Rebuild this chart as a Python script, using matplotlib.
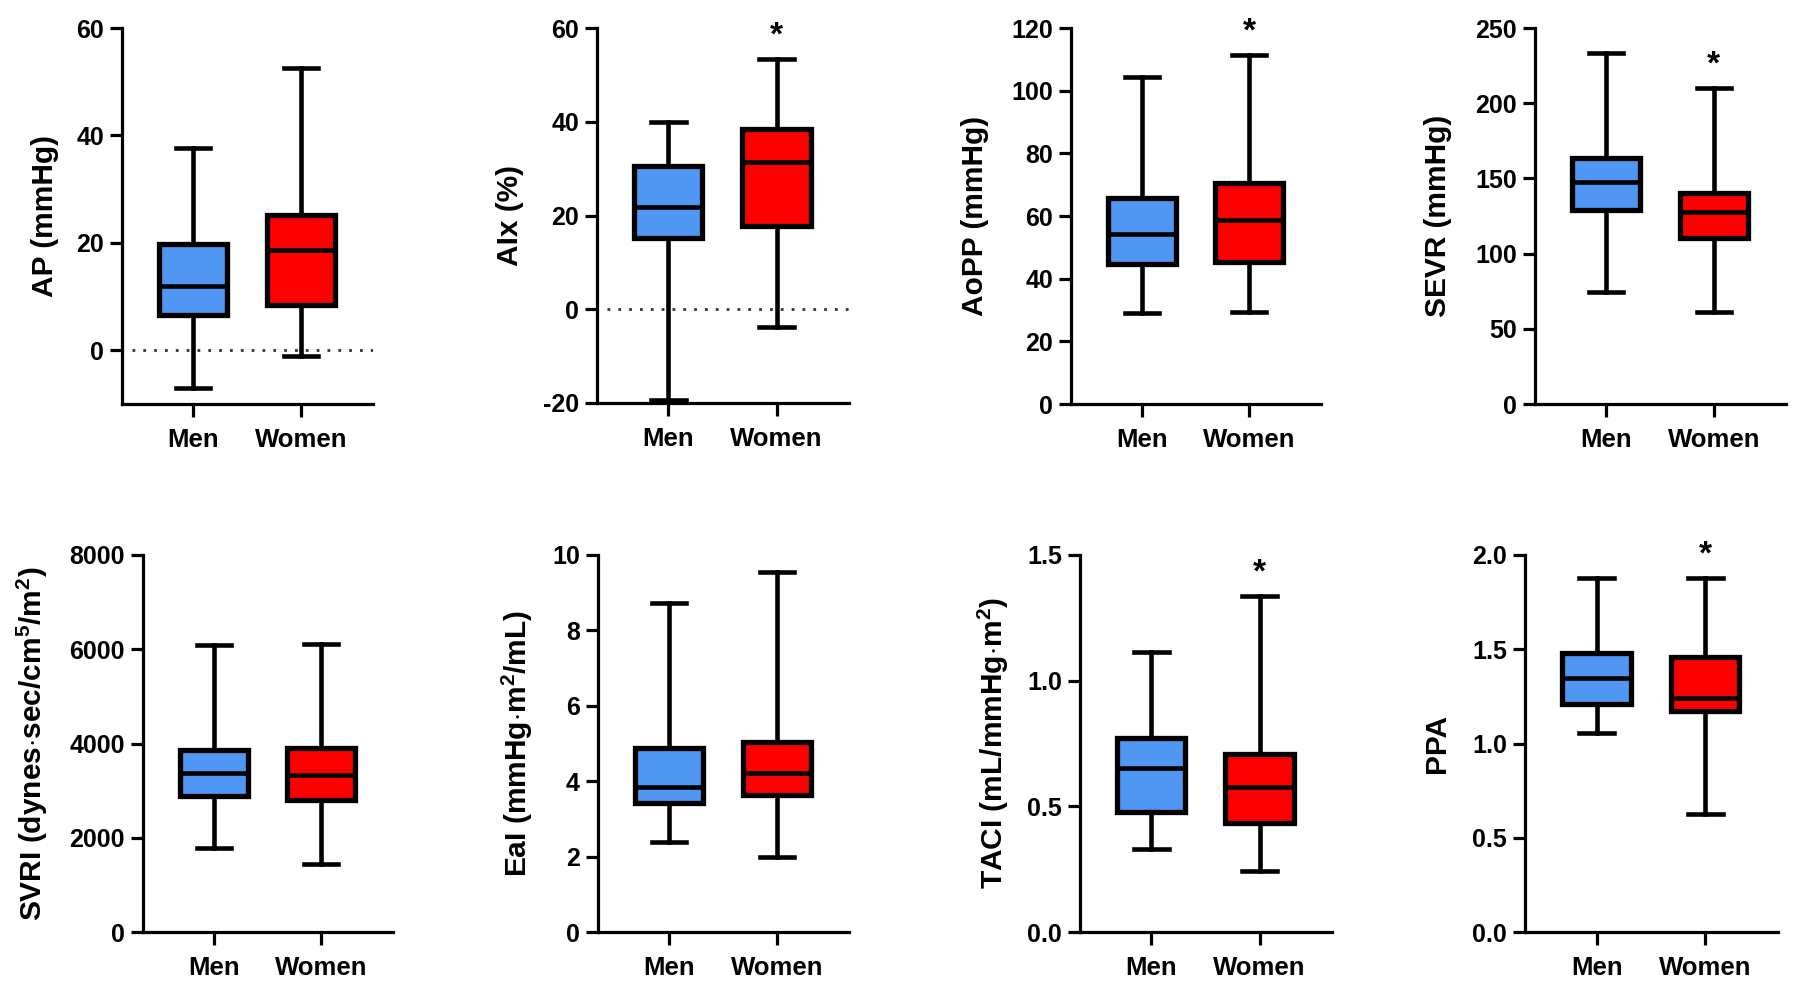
import matplotlib
matplotlib.use("Agg")
import matplotlib.pyplot as plt
from matplotlib.ticker import FormatStrFormatter

plt.rcParams['font.family'] = ['Liberation Sans', 'DejaVu Sans']
plt.rcParams['font.weight'] = 'bold'
plt.rcParams['mathtext.fontset'] = 'custom'
plt.rcParams['mathtext.rm'] = 'Liberation Sans:bold'
plt.rcParams['mathtext.default'] = 'rm'

groups = ['Men', 'Women']
ylabels = ['AP (mmHg)', 'AIx (%)', 'AoPP (mmHg)', 'SEVR (mmHg)',
           r'SVRI (dynes$\cdot$sec/cm$^{5}$/m$^{2}$)', r'EaI (mmHg$\cdot$m$^{2}$/mL)',
           r'TACI (mL/mmHg$\cdot$m$^{2}$)', 'PPA']

# whisker low, Q1, median, Q3, whisker high
men_low = [-7.1, -19.3, 29.0, 74.5, 1782, 2.39, 0.330, 1.056]
men_q1 = [6.5, 15.1, 44.6, 129.0, 2886, 3.42, 0.477, 1.21]
men_med = [12.0, 21.9, 54.2, 147.6, 3374, 3.85, 0.653, 1.347]
men_q3 = [19.8, 30.6, 65.7, 163.6, 3862, 4.88, 0.772, 1.48]
men_high = [37.6, 40.0, 104.4, 233.4, 6090, 8.73, 1.114, 1.878]

women_low = [-1.1, -3.8, 29.4, 61.2, 1443, 1.99, 0.243, 0.626]
women_q1 = [8.4, 17.7, 45.4, 110.4, 2801, 3.63, 0.434, 1.172]
women_med = [18.7, 31.5, 58.7, 127.7, 3331, 4.22, 0.577, 1.241]
women_q3 = [25.2, 38.5, 70.6, 140.3, 3904, 5.04, 0.708, 1.459]
women_high = [52.5, 53.4, 111.4, 210.0, 6111, 9.55, 1.337, 1.878]

significant = [False, True, True, True, False, False, True, True]

ylims = [(-10, 60), (-20, 60), (0, 120), (0, 250), (0, 8000), (0, 10), (0, 1.5), (0, 2.0)]
ytick_steps = [20, 20, 20, 50, 2000, 2, 0.5, 0.5]
ytick_fmt = ['%d', '%d', '%d', '%d', '%d', '%d', '%.1f', '%.1f']
zero_line = [True, True, False, False, False, False, False, False]

# axes placement in pixels (left, right, top, bottom) and y-label centre offset
W, H = 1800, 998
boxes_px = [(122, 373, 28, 404), (597, 849, 28, 403), (1071, 1321, 28, 404), (1535, 1786, 28, 404),
            (143, 393, 555, 932), (598, 849, 555, 932), (1080, 1332, 555, 932), (1525, 1778, 555, 932)]
label_x = [-0.307, -0.345, -0.384, -0.386, -0.444, -0.32, -0.345, -0.348]

colors = ['#4f97f2', '#ff0000']

fig = plt.figure(figsize=(W / 100, H / 100), dpi=100)

for i in range(8):
    l, r, t, b = boxes_px[i]
    ax = fig.add_axes([l / W, 1 - b / H, (r - l) / W, (b - t) / H])
    stats = [
        dict(whislo=men_low[i], q1=men_q1[i], med=men_med[i], q3=men_q3[i], whishi=men_high[i]),
        dict(whislo=women_low[i], q1=women_q1[i], med=women_med[i], q3=women_q3[i], whishi=women_high[i]),
    ]
    if zero_line[i]:
        ax.axhline(0, xmin=0.04, xmax=1.0, color='#333333', lw=2.0, ls=(0, (1, 2.9)), zorder=1)
    bp = ax.bxp(stats, positions=[0, 1], widths=0.63, capwidths=0.32, patch_artist=True,
                showfliers=False,
                boxprops=dict(linewidth=3.8, edgecolor='black'),
                whiskerprops=dict(linewidth=3.3, color='black'),
                capprops=dict(linewidth=3.3, color='black'),
                medianprops=dict(linewidth=3.3, color='black'))
    for patch, c in zip(bp['boxes'], colors):
        patch.set_facecolor(c)
        patch.set_zorder(2)
    for line in bp['whiskers'] + bp['caps']:
        line.set_zorder(1.5)

    lo, hi = ylims[i]
    ax.set_ylim(lo, hi)
    ax.set_xlim(-0.66, 1.67)
    step = ytick_steps[i]
    first = lo if lo % step == 0 else lo + (step - lo % step)
    ticks = []
    v = first
    while v <= hi + 1e-9:
        ticks.append(v)
        v += step
    ax.set_yticks(ticks)
    ax.yaxis.set_major_formatter(FormatStrFormatter(ytick_fmt[i]))
    ax.set_xticks([0, 1])
    ax.set_xticklabels(groups)

    ax.spines['top'].set_visible(False)
    ax.spines['right'].set_visible(False)
    ax.spines['left'].set_linewidth(2.3)
    ax.spines['bottom'].set_linewidth(2.3)
    ax.tick_params(axis='y', length=9, width=2.3, pad=4, labelsize=18)
    ax.tick_params(axis='x', length=9, width=2.3, pad=8, labelsize=18.5)
    for lab in ax.get_xticklabels() + ax.get_yticklabels():
        lab.set_fontweight('bold')
    ax.set_ylabel(ylabels[i], fontsize=21.5, fontweight='bold', va='center')
    ax.yaxis.set_label_coords(label_x[i], 0.5)

    if significant[i]:
        ax.text(1, women_high[i] + (hi - lo) * 0.02, '*', ha='center', va='bottom',
                fontsize=24, fontweight='bold')

fig.savefig('out.png', dpi=100)
